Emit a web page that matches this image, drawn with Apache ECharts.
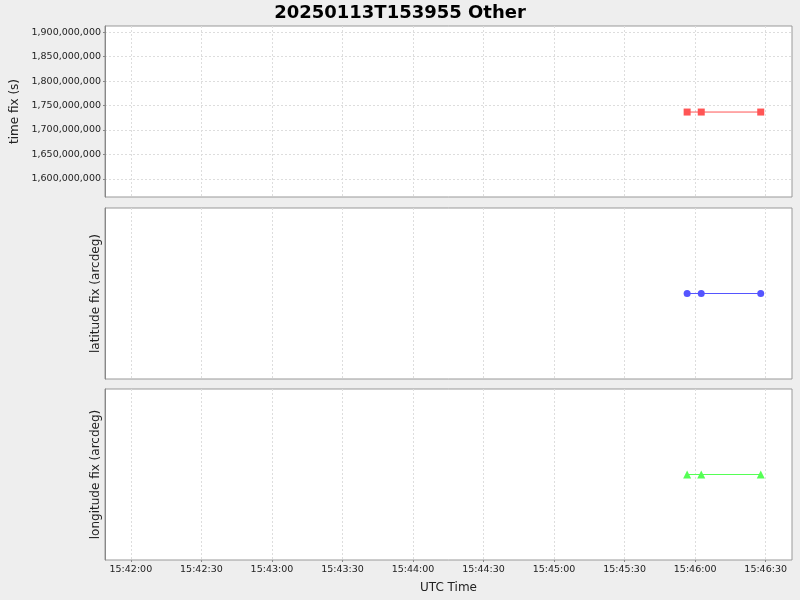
<!DOCTYPE html>
<html><head><meta charset="utf-8">
<script src="https://cdn.jsdelivr.net/npm/echarts@6/dist/echarts.min.js"></script>
<style>html,body{margin:0;padding:0;background:#eeeeee}#c{width:800px;height:600px}</style>
</head><body><div id="c"></div>
<script>
const titleText = '20250113T153955 Other';
const times = ['2025-01-13T15:45:56.6Z', '2025-01-13T15:46:02.6Z', '2025-01-13T15:46:27.9Z'];
const timeFix = [1736783157, 1736783163, 1736783188];
const latitudeFix = [0, 0, 0];
const longitudeFix = [0, 0, 0];
const xTickLabels = ['15:42:00','15:42:30','15:43:00','15:43:30','15:44:00','15:44:30','15:45:00','15:45:30','15:46:00','15:46:30'];
const yTickLabels = [1600000000,1650000000,1700000000,1750000000,1800000000,1850000000,1900000000];
const xRange = ['2025-01-13T15:41:49.0Z', '2025-01-13T15:46:41.2Z'];
const yRange = [1562900000, 1912900000];

const t = times.map(s => Date.parse(s));
const xTicks = xTickLabels.map(s => Date.parse('2025-01-13T' + s + 'Z'));
const xMin = Date.parse(xRange[0]), xMax = Date.parse(xRange[1]);
const pad = n => String(n).padStart(2, '0');
const fmtT = v => { const d = new Date(v); return pad(d.getUTCHours()) + ':' + pad(d.getUTCMinutes()) + ':' + pad(d.getUTCSeconds()); };
const font = 'DejaVu Sans';
const gridLine = {show: true, lineStyle: {color: '#dddddd', type: [2, 2], width: 1}};

function xAxis(i, showLabels) {
  return {
    type: 'value', gridIndex: i, min: xMin, max: xMax,
    axisLine: {show: false, onZero: false},
    axisTick: {show: showLabels, customValues: xTicks, length: 2, lineStyle: {color: '#888'}},
    axisLabel: {show: showLabels, customValues: xTicks, formatter: fmtT, color: '#222', fontFamily: font, fontSize: 9.5, margin: 5},
    splitLine: gridLine,
    name: showLabels ? 'UTC Time' : '', nameLocation: 'middle', nameGap: 22,
    nameTextStyle: {fontFamily: font, fontSize: 12, color: '#222'}
  };
}
const grids = [
  {left: 105, top: 26, width: 687, height: 171},
  {left: 105, top: 208, width: 687, height: 171},
  {left: 105, top: 389, width: 687, height: 171}
].map(g => Object.assign(g, {show: true, backgroundColor: '#ffffff', borderColor: '#999999', borderWidth: 1}));

const yName = {fontFamily: font, fontSize: 12, color: '#222'};
const option = {
  backgroundColor: '#eeeeee',
  animation: false,
  title: {text: titleText, left: 'center', top: -1, textStyle: {fontFamily: font, fontSize: 18, fontWeight: 'bold', color: '#000'}},
  grid: grids,
  xAxis: [xAxis(0, false), xAxis(1, false), xAxis(2, true)],
  yAxis: [
    {type: 'value', gridIndex: 0, min: yRange[0], max: yRange[1],
     axisLine: {show: true, onZero: false, lineStyle: {color: '#888'}},
     axisTick: {show: true, customValues: yTickLabels, length: 2, lineStyle: {color: '#888'}},
     axisLabel: {customValues: yTickLabels, formatter: v => Number(v).toLocaleString('en-US'), color: '#222', fontFamily: font, fontSize: 9.5, margin: 4},
     splitLine: gridLine,
     name: 'time fix (s)', nameLocation: 'middle', nameRotate: 90, nameGap: 77, nameTextStyle: yName},
    {type: 'value', gridIndex: 1, min: -1, max: 1,
     axisLine: {show: true, onZero: false, lineStyle: {color: '#888'}}, axisTick: {show: false}, axisLabel: {show: false}, splitLine: {show: false},
     name: 'latitude fix (arcdeg)', nameLocation: 'middle', nameRotate: 90, nameGap: 3, nameTextStyle: yName},
    {type: 'value', gridIndex: 2, min: -1, max: 1,
     axisLine: {show: true, onZero: false, lineStyle: {color: '#888'}}, axisTick: {show: false}, axisLabel: {show: false}, splitLine: {show: false},
     name: 'longitude fix (arcdeg)', nameLocation: 'middle', nameRotate: 90, nameGap: 3, nameTextStyle: yName}
  ],
  series: [
    {type: 'line', xAxisIndex: 0, yAxisIndex: 0, data: t.map((x, i) => [x, timeFix[i]]),
     symbol: 'rect', symbolSize: 7, showAllSymbol: true, color: '#ff5555', lineStyle: {width: 1, color: '#ff5555'}, itemStyle: {color: '#ff5555'}},
    {type: 'line', xAxisIndex: 1, yAxisIndex: 1, data: t.map((x, i) => [x, latitudeFix[i]]),
     symbol: 'circle', symbolSize: 7, showAllSymbol: true, color: '#5555ff', lineStyle: {width: 1, color: '#5555ff'}, itemStyle: {color: '#5555ff'}},
    {type: 'line', xAxisIndex: 2, yAxisIndex: 2, data: t.map((x, i) => [x, longitudeFix[i]]),
     symbol: 'triangle', symbolSize: 8, showAllSymbol: true, color: '#55ff55', lineStyle: {width: 1, color: '#55ff55'}, itemStyle: {color: '#55ff55'}}
  ]
};
echarts.init(document.getElementById('c'), null, {renderer: 'canvas'}).setOption(option);
</script></body></html>
